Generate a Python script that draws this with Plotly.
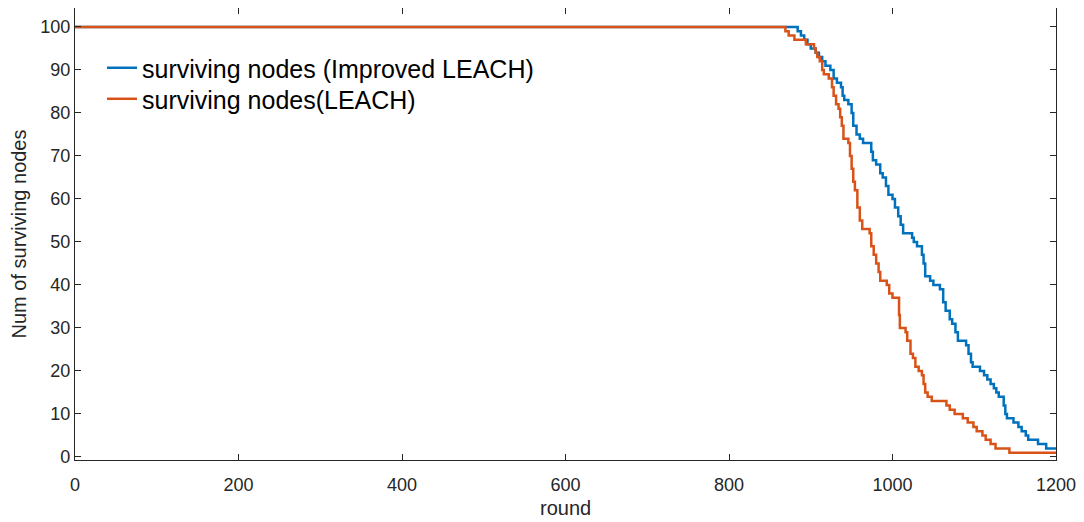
import plotly.graph_objects as go

# Step data: round at which the count changes, and the count after that round
improved_rounds = [0, 884, 888, 892, 896, 900, 906, 910, 914, 918, 924, 928, 932, 937, 939, 941, 946, 950,
                   952, 956, 960, 964, 974, 976, 980, 985, 988, 992, 995, 1000, 1003, 1007, 1010, 1013,
                   1024, 1026, 1030, 1036, 1038, 1040, 1046, 1050, 1058, 1062, 1065, 1070, 1073, 1077,
                   1080, 1090, 1093, 1096, 1098, 1107, 1112, 1116, 1120, 1124, 1127, 1130, 1136, 1138,
                   1140, 1148, 1154, 1158, 1163, 1166, 1178, 1188, 1200]
improved_nodes = [100, 99, 98, 97, 96, 95, 94, 93, 92, 91, 90, 88, 87, 86, 84, 83, 82, 80,
                  77, 75, 74, 73, 71, 69, 68, 66, 65, 63, 61, 60, 58, 56, 54, 52,
                  51, 50, 49, 47, 45, 42, 41, 40, 39, 36, 34, 32, 31, 29,
                  27, 26, 24, 22, 21, 20, 19, 18, 17, 16, 15, 14, 12, 10,
                  9, 8, 7, 6, 5, 4, 3, 2, 2]

leach_rounds = [0, 869, 873, 880, 894, 904, 906, 908, 911, 914, 916, 922, 926, 928, 931, 934, 936, 938,
                940, 946, 948, 950, 952, 954, 957, 960, 963, 972, 974, 977, 980, 983, 985, 993, 996,
                1000, 1008, 1009, 1016, 1018, 1022, 1025, 1028, 1032, 1036, 1038, 1040, 1043, 1048,
                1066, 1070, 1076, 1086, 1092, 1099, 1103, 1110, 1114, 1120, 1126, 1143, 1200]
leach_nodes = [100, 99, 98, 97, 96, 95, 94, 93, 92, 90, 89, 88, 86, 84, 82, 81, 79, 77,
               74, 73, 70, 67, 64, 62, 58, 55, 53, 52, 49, 47, 45, 43, 41, 40, 38,
               37, 33, 30, 29, 27, 24, 23, 21, 20, 19, 17, 15, 14, 13,
               12, 11, 10, 9, 8, 7, 6, 5, 4, 3, 2, 1, 1]

x_ticks = [0, 200, 400, 600, 800, 1000, 1200]
y_ticks = [0, 10, 20, 30, 40, 50, 60, 70, 80, 90, 100]

FONT = "Liberation Sans, Arial, sans-serif"
TXT = "#262626"
AX = "#262626"

fig = go.Figure()
fig.add_trace(go.Scatter(x=improved_rounds, y=improved_nodes, mode="lines", line_shape="hv",
                         line=dict(color="#0072BD", width=2.5),
                         name="surviving nodes (Improved LEACH)", legend="legend"))
fig.add_trace(go.Scatter(x=leach_rounds, y=leach_nodes, mode="lines", line_shape="hv",
                         line=dict(color="#D95319", width=2.5),
                         name="surviving nodes(LEACH)", legend="legend2"))

leg_common = dict(xanchor="left", yanchor="middle", bgcolor="rgba(0,0,0,0)", borderwidth=0,
                  font=dict(size=25, color="#000000", family=FONT))

fig.update_layout(
    width=1068, height=514,
    margin=dict(l=67, r=20, t=0, b=62),
    paper_bgcolor="white", plot_bgcolor="white",
    font=dict(family=FONT, color=TXT, size=18),
    showlegend=True,
    legend=dict(x=0.0275, y=0.8672, **leg_common),
    legend2=dict(x=0.0275, y=0.7986, **leg_common),
)
fig.add_annotation(text="round", xref="paper", yref="paper", x=0.5, y=-0.106,
                   xanchor="center", yanchor="middle", showarrow=False,
                   font=dict(size=20, color=TXT, family=FONT))
fig.update_xaxes(range=[0, 1200], tickvals=x_ticks, ticktext=[str(v) for v in x_ticks],
                 showline=True, linecolor=AX, linewidth=1.2, mirror="ticks",
                 ticks="inside", ticklen=6, tickcolor=AX, showgrid=False, zeroline=False,
                 ticklabeloverflow="allow", ticklabelstandoff=8, automargin=False,
                 tickfont=dict(size=18, color=TXT))
fig.update_yaxes(range=[-0.7, 104.4], tickvals=y_ticks, ticktext=[str(v) for v in y_ticks],
                 showline=True, linecolor=AX, linewidth=1.2, mirror="ticks",
                 ticks="inside", ticklen=6, tickcolor=AX, showgrid=False, zeroline=False,
                 automargin=False,
                 title=dict(text="Num of surviving nodes", font=dict(size=20), standoff=10),
                 tickfont=dict(size=18, color=TXT))

fig.write_html("out.html")
